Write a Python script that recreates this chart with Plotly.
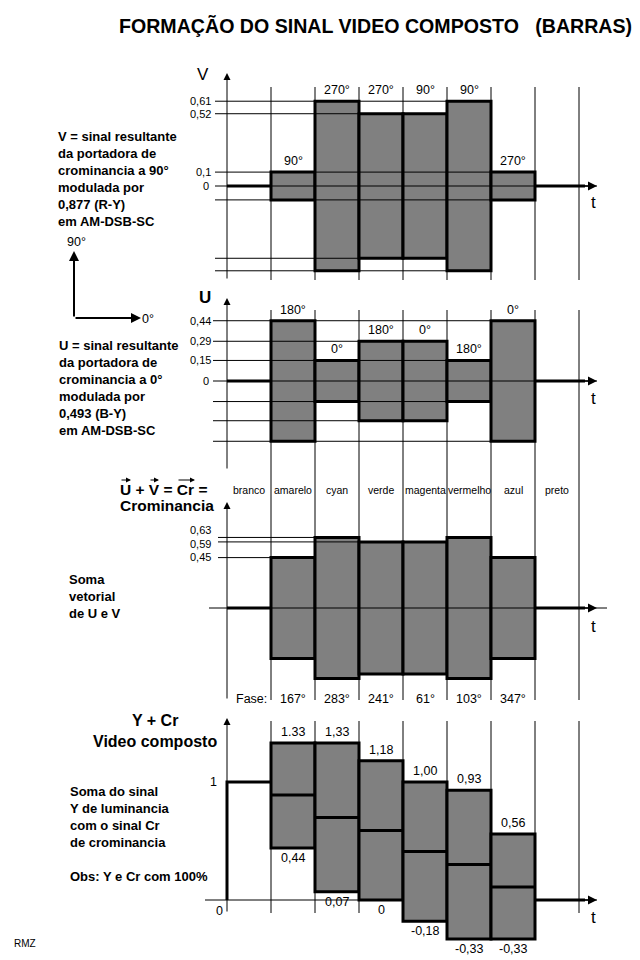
import plotly.graph_objects as go

# ---------------- data ----------------
colors = ["branco", "amarelo", "cyan", "verde", "magenta", "vermelho", "azul", "preto"]

V_amp = [0, 0.10, 0.61, 0.52, 0.52, 0.61, 0.10, 0]
V_phase = ["", "90°", "270°", "270°", "90°", "90°", "270°", ""]
V_ticks = [0.61, 0.52, 0.1, 0]
V_tick_lbl = ["0,61", "0,52", "0,1", "0"]

U_amp = [0, 0.44, 0.15, 0.29, 0.29, 0.15, 0.44, 0]
U_phase = ["", "180°", "0°", "180°", "0°", "180°", "0°", ""]
U_ticks = [0.44, 0.29, 0.15, 0]
U_tick_lbl = ["0,44", "0,29", "0,15", "0"]

Cr_amp = [0, 0.45, 0.63, 0.59, 0.59, 0.63, 0.45, 0]
Cr_phase = ["", "167°", "283°", "241°", "61°", "103°", "347°", ""]
Cr_ticks = [0.63, 0.59, 0.45]
Cr_tick_lbl = ["0,63", "0,59", "0,45"]

Y_lum = [1, 0.89, 0.70, 0.59, 0.41, 0.30, 0.11, 0]
comp_hi = [1, 1.33, 1.33, 1.18, 1.00, 0.93, 0.56, 0]
comp_lo = [1, 0.44, 0.07, 0.00, -0.18, -0.33, -0.33, 0]
comp_hi_lbl = ["", "1.33", "1,33", "1,18", "1,00", "0,93", "0,56", ""]
comp_lo_lbl = ["", "0,44", "0,07", "0", "-0,18", "-0,33", "-0,33", ""]

# ---------------- layout helpers ----------------
W, H = 640, 960          # page size
OFF = 8                  # default page body margin
FW, FH = W - OFF, H - OFF  # figure size
X0, CW = 227, 44
FONT = "Arial, 'Liberation Sans', Helvetica, sans-serif"
GRAY = "#808080"
PAN = {1: (186, 139), 2: (381, 137), 3: (608, 112), 4: (900, 118)}


def yref(k):
    return "y" if k == 1 else f"y{k}"


def ppx(px):
    return (px - OFF) / FW


def ppy(py):
    return 1 - (py - OFF) / FH


def xd(px):
    return (px - X0) / CW


fig = go.Figure()
shapes, annots = [], []


def hline(x0, x1, y, k, width=1, layer="above"):
    shapes.append(dict(type="line", xref="x", yref=yref(k), x0=x0, x1=x1, y0=y, y1=y,
                       line=dict(color="black", width=width), layer=layer))


def vline_px(x, top, bot, layer="below"):
    shapes.append(dict(type="line", xref="x", yref="paper", x0=x, x1=x, y0=ppy(top), y1=ppy(bot),
                       line=dict(color="black", width=1), layer=layer))


def text(x, y, s, size=12, bold=False, xref="paper", yr="paper", xanchor="center",
         yanchor="middle", align="center", yshift=0):
    if bold:
        s = f"<b>{s}</b>"
    annots.append(dict(x=x, y=y, xref=xref, yref=yr, text=s, showarrow=False,
                       font=dict(family=FONT, size=size, color="black"),
                       xanchor=xanchor, yanchor=yanchor, align=align, yshift=yshift))


def arrow(x, y, ax, ay, xref="paper", yr="paper", width=1, size=1.3):
    annots.append(dict(x=x, y=y, xref=xref, yref=yr, ax=ax, ay=ay, text="", showarrow=True,
                       arrowhead=2, arrowsize=size, arrowwidth=width, arrowcolor="black",
                       standoff=0, startstandoff=0))


def thick(k, xs, ys):
    fig.add_trace(go.Scatter(x=xs, y=ys, mode="lines", line=dict(color="black", width=3),
                             yaxis=yref(k), showlegend=False, hoverinfo="skip"))


# ---------------- column grid lines ----------------
for i in range(1, 9):
    vline_px(i, 87, 280)
    vline_px(i, 310, 700)
    vline_px(i, 721, 913)

# y axes with arrows
for top, bot in [(73, 280), (298, 470), (502, 700), (718, 913)]:
    arrow(0, ppy(top), 0, bot - top, xref="x", width=1, size=1.4)

# ---------------- panels 1-3 (symmetric bars) ----------------
for k, amp, phase, ticks, tlbl, start in [
    (1, V_amp, V_phase, V_ticks, V_tick_lbl, 215),
    (2, U_amp, U_phase, U_ticks, U_tick_lbl, 213),
    (3, Cr_amp, Cr_phase, Cr_ticks, Cr_tick_lbl, 218),
]:
    idx = [i for i, a in enumerate(amp) if a > 0]
    fig.add_trace(go.Bar(x=[i + 0.5 for i in idx], y=[2 * amp[i] for i in idx],
                         base=[-amp[i] for i in idx], width=1,
                         marker=dict(color=GRAY, line=dict(color="black", width=3)),
                         yaxis=yref(k), showlegend=False, hoverinfo="skip"))
    first, last = min(idx), max(idx) + 1
    thick(k, [0, first, None, last, xd(585)], [0, 0, None, 0, 0])
    arrow(xd(597), 0, -14, 0, xref="x", yr=yref(k), width=1.5, size=1.2)

    levels = sorted(set(a for a in amp if a > 0))
    for lev in levels:
        if k == 3:
            right = min(i for i, a in enumerate(amp) if a == lev)
            hline(xd(start), right, lev, k)
        else:
            right = max(i for i, a in enumerate(amp) if a == lev) + 1
            hline(xd(start), right, lev, k)
            hline(xd(start), right, -lev, k)
    if k == 3:
        hline(xd(209), xd(607), 0, k)
    else:
        hline(xd(start), xd(597), 0, k)

    shifts = [7, -2, 1] if k == 3 else [0] * len(ticks)
    for t, lb, sh in zip(ticks, tlbl, shifts):
        if t == 0:
            text(ppx(206), 0, lb, 11, yr=yref(k))
        else:
            text(ppx(213), t, lb, 11, yr=yref(k), xanchor="right", yshift=sh)

    mx = max(amp)
    if k in (1, 2):
        for i in idx:
            a = amp[i]
            ly = a if (k == 2 or a < 0.3) else mx
            text(i + 0.5, ly, phase[i], 12.5, xref="x", yr=yref(k), yanchor="bottom", yshift=2)
    else:
        for i in idx:
            text(i + 0.5, ppy(699), phase[i], 12.5, xref="x")
        text(xd(251), ppy(699), "Fase:", 12.5, xref="x")

# ---------------- panel 4 (composite video) ----------------
idx4 = [i for i in range(len(colors)) if comp_hi[i] != comp_lo[i]]
fig.add_trace(go.Bar(x=[i + 0.5 for i in idx4], y=[comp_hi[i] - comp_lo[i] for i in idx4],
                     base=[comp_lo[i] for i in idx4], width=1,
                     marker=dict(color=GRAY, line=dict(color="black", width=3)),
                     yaxis="y4", showlegend=False, hoverinfo="skip"))
hline(xd(205), xd(597), 0, 4, layer="below")
thick(4, [0, 0, 1], [0, comp_hi[0], comp_hi[0]])
lx, ly = [], []
for i in idx4:
    lx += [i, i + 1, None]
    ly += [Y_lum[i], Y_lum[i], None]
thick(4, lx, ly)
thick(4, [max(idx4) + 1, xd(585)], [0, 0])
arrow(xd(597), 0, -14, 0, xref="x", yr="y4", width=1.5, size=1.2)
for i in idx4:
    text(i + 0.5, comp_hi[i], comp_hi_lbl[i], 12.5, xref="x", yr="y4", yanchor="bottom", yshift=2)
    text(i + 0.5, comp_lo[i], comp_lo_lbl[i], 12.5, xref="x", yr="y4", yanchor="top", yshift=-1)
text(ppx(213), 1, "1", 12.5, yr="y4")
text(ppx(219), ppy(911), "0", 12.5)

# ---------------- texts ----------------
text(ppx(375), ppy(26), "FORMAÇÃO DO SINAL VIDEO COMPOSTO\u00a0\u00a0\u00a0(BARRAS)", 19.6, bold=True)

text(ppx(203), ppy(75), "V", 17)
text(ppx(205), ppy(297), "U", 17, bold=True)
for ty in [203, 398, 626, 917]:
    text(ppx(593), ppy(ty), "t", 17)

# column names
for i, c in enumerate(colors):
    text(i + 0.5, ppy(490), c, 10.5, xref="x")

left_v = ["V = sinal resultante", "da portadora de", "crominancia a 90°", "modulada por",
          "0,877 (R-Y)", "em AM-DSB-SC"]
left_u = ["U = sinal resultante", "da portadora de", "crominancia a 0°", "modulada por",
          "0,493 (B-Y)", "em AM-DSB-SC"]
left_cr = ["Soma", "vetorial", "de U e V"]
left_y = ["Soma do sinal", "Y de luminancia", "com o sinal Cr", "de crominancia", "",
          "Obs: Y e Cr com 100%"]
for lines, cx, cy in [(left_v, 56, 178.5), (left_u, 57, 387.5), (left_cr, 67, 596),
                      (left_y, 68, 833.5)]:
    text(ppx(cx), ppy(cy), "<br>".join(f"<b>{l}</b>" if l else "\u00a0" for l in lines), 13,
         xanchor="left", align="left")

# U + V = Cr header
text(ppx(118), ppy(489), "U + V = Cr =", 15.5, bold=True, xanchor="left")
text(ppx(118), ppy(505), "Crominancia", 15.5, bold=True, xanchor="left")
for x0, x1 in [(120, 131), (149, 159), (177, 195)]:
    arrow(ppx(x1), ppy(480), -(x1 - x0), 0, width=1, size=1)

text(ppx(155), ppy(720), "Y + Cr", 16, bold=True)
text(ppx(155), ppy(741), "Video composto", 16, bold=True)

# phase reference diagram
arrow(ppx(74), ppy(251), 0, 67, width=2, size=1)
arrow(ppx(141), ppy(318), -67, 0, width=2, size=1)
text(ppx(76), ppy(242), "90°", 12.5)
text(ppx(148), ppy(319), "0°", 12.5)

text(ppx(12), ppy(943), "RMZ", 10, xanchor="left")

# ---------------- layout ----------------
layout = dict(
    width=FW, height=FH, autosize=False,
    margin=dict(l=0, r=0, t=0, b=0, pad=0),
    paper_bgcolor="white", plot_bgcolor="white",
    barmode="overlay", showlegend=False,
    xaxis=dict(range=[xd(OFF), xd(OFF + FW)], visible=False, fixedrange=True),
    shapes=shapes, annotations=annots,
)
for k, (z0, s) in PAN.items():
    ax = dict(range=[(z0 - OFF - FH) / s, (z0 - OFF) / s], visible=False, fixedrange=True,
              domain=[0, 1])
    if k > 1:
        ax["overlaying"] = "y"
    layout["yaxis" if k == 1 else f"yaxis{k}"] = ax
fig.update_layout(**layout)

fig.write_html("out.html")
